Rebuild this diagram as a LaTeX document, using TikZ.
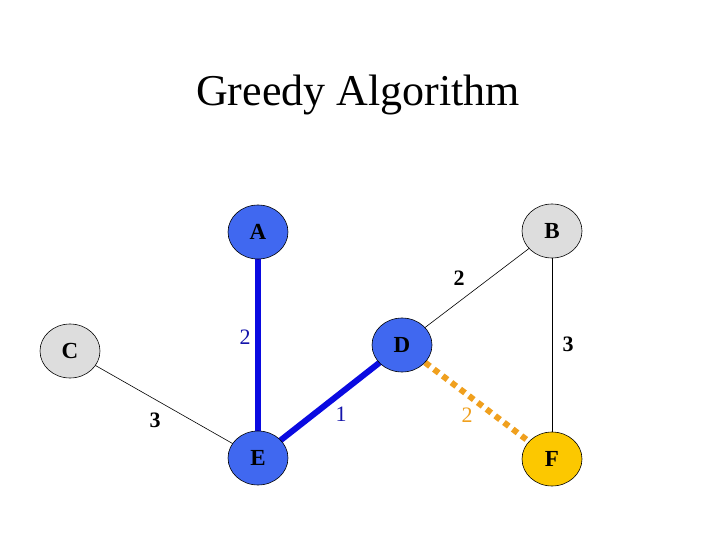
\documentclass[tikz,border=0pt]{standalone}
\usepackage{fontspec}
\setmainfont{Liberation Serif}
\usetikzlibrary{shapes.geometric,backgrounds}
\definecolor{nodeblue}{RGB}{64,104,240}
\definecolor{nodegray}{RGB}{221,221,221}
\definecolor{nodegold}{RGB}{252,200,0}
\definecolor{edgeblue}{RGB}{10,10,225}
\definecolor{labelblue}{RGB}{20,20,170}
\definecolor{edgeorange}{RGB}{240,160,30}
\begin{document}
\begin{tikzpicture}[x=1pt,y=-1pt,
  vtx/.style={draw=black, line width=0.6pt, ellipse, minimum width=60pt, minimum height=54pt, inner sep=0pt, font=\fontsize{23}{25}\selectfont\bfseries},
  thinedge/.style={draw=black, line width=0.6pt},
  treeedge/.style={draw=edgeblue, line width=6pt},
  candedge/.style={draw=edgeorange, line width=6pt, dash pattern=on 6pt off 5pt},
  wlabel/.style={font=\fontsize{22}{24}\selectfont\bfseries, inner sep=0pt},
  clabel/.style={font=\fontsize{22}{24}\selectfont, inner sep=0pt}
]
\useasboundingbox (0,0) rectangle (720,540);
\node[font=\fontsize{44}{47}\selectfont, inner sep=0pt] (title) at (358,95) {Greedy Algorithm};

\node[vtx, fill=nodeblue] (A) at (258,232) {A};
\node[vtx, fill=nodegray] (B) at (552,231) {B};
\node[vtx, fill=nodegray] (C) at (70,351) {C};
\node[vtx, fill=nodeblue] (D) at (402,345) {D};
\node[vtx, fill=nodeblue] (E) at (258,458) {E};
\node[vtx, fill=nodegold] (F) at (552,459) {F};

\begin{scope}[on background layer]
\fill[white] (0,0) rectangle (720,540);
\path[thinedge] (C.center) -- (E.center);
\path[thinedge] (D.center) -- (B.center);
\path[thinedge] (B.center) -- (F.center);
\path[treeedge] (A.center) -- (E.center);
\path[treeedge] (E.center) -- (D.center);
\path[candedge] (D) -- (F);
\end{scope}

\node[wlabel] (lDB) at (459,278) {2};
\node[clabel, text=labelblue] (lAE) at (245,337) {2};
\node[wlabel] (lBF) at (568,344) {3};
\node[wlabel] (lCE) at (155,420) {3};
\node[clabel, text=labelblue] (lED) at (341,414) {1};
\node[clabel, text=edgeorange] (lDF) at (467,415) {2};
\end{tikzpicture}
\end{document}
